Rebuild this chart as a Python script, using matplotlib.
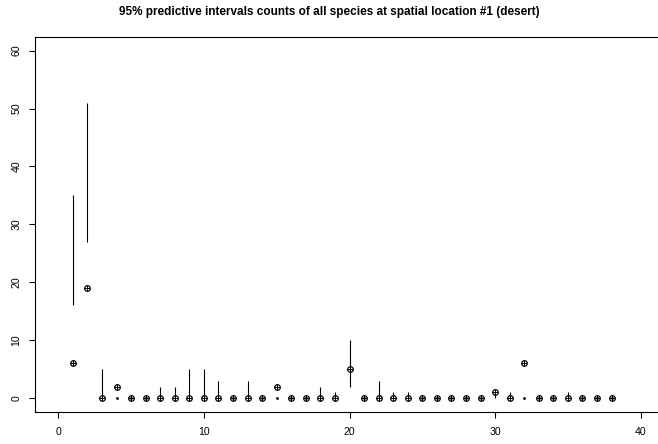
import numpy as np
import matplotlib.pyplot as plt

plt.rcParams['font.family'] = ['Liberation Sans', 'DejaVu Sans']

# species index, observed count, 95% predictive interval (lower, upper)
species = np.arange(1, 39)
observed = [6, 19, 0, 2, 0, 0, 0, 0, 0, 0, 0, 0, 0, 0, 2, 0, 0, 0, 0, 5,
            0, 0, 0, 0, 0, 0, 0, 0, 0, 1, 0, 6, 0, 0, 0, 0, 0, 0]
lower = [16, 27, 0, 0, 0, 0, 0, 0, 0, 0, 0, 0, 0, 0, 0, 0, 0, 0, 0, 2,
         0, 0, 0, 0, 0, 0, 0, 0, 0, 0, 0, 0, 0, 0, 0, 0, 0, 0]
upper = [35, 51, 5, 0, 0, 0, 2, 2, 5, 5, 3, 0, 3, 0, 0, 0, 0, 2, 1, 10,
         0, 3, 1, 1, 0, 0, 0, 0, 0, 1, 1, 0, 0, 0, 1, 0, 0, 0]

lower = np.array(lower)
upper = np.array(upper)

fig = plt.figure(figsize=(6.58, 4.44), dpi=100)
ax = fig.add_axes([35/658, 1 - 412/444, (664 - 35)/658, (412 - 36.7)/444])

# intervals
ax.vlines(species, lower, upper, color='black', linewidth=0.8)
zero = lower == upper
ax.plot(species[zero], lower[zero], linestyle='none', marker='o',
        markersize=1.0, color='black')

# observed counts (circle with plus)
ax.plot(species, observed, linestyle='none', marker='o', markersize=4.0,
        markerfacecolor='none', markeredgecolor='black', markeredgewidth=0.9)
ax.plot(species, observed, linestyle='none', marker='+', markersize=4.0,
        color='black', markeredgewidth=0.7)

ax.set_xlim(-1.6, 41.6)
ax.set_ylim(-2.4, 62.4)
ax.set_xticks([0, 10, 20, 30, 40])
ax.set_yticks([0, 10, 20, 30, 40, 50, 60])
ax.tick_params(direction='out', length=4.3, width=0.8, labelsize=7.6)
ax.tick_params(axis='x', pad=6.5)
ax.tick_params(axis='y', pad=5.5)
for lab in ax.get_yticklabels():
    lab.set_rotation(90)
    lab.set_verticalalignment('center')
for s in ax.spines.values():
    s.set_linewidth(0.8)
ax.spines['right'].set_visible(False)

fig.text(329/658, 1 - 12/444, '95% predictive intervals counts of all species at spatial location #1 (desert)',
         ha='center', va='center', fontsize=8.5, fontweight='bold')

fig.savefig('out.png', dpi=100)
